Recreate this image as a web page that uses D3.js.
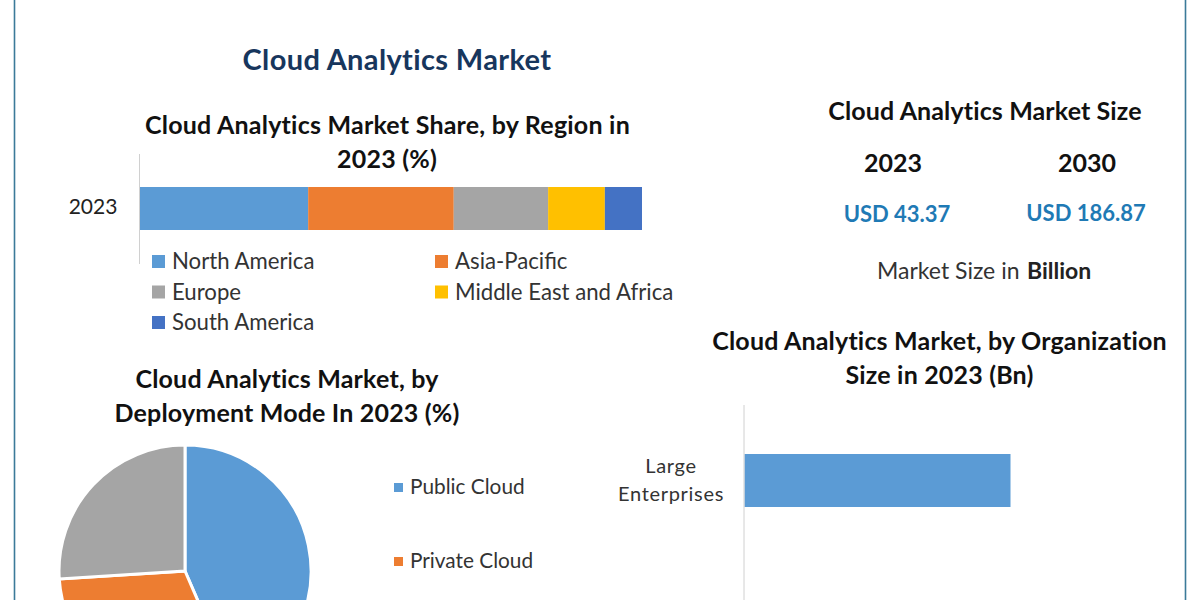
<!DOCTYPE html>
<html><head><meta charset="utf-8">
<script src="https://cdnjs.cloudflare.com/ajax/libs/d3/7.8.5/d3.min.js"></script>
<style>html,body{margin:0;background:#fff}svg{display:block}text{font-family:Lato,"Noto Sans",sans-serif}</style>
</head><body><svg id="c" width="1200" height="600"></svg>
<script>
const regionNames = ["North America","Asia-Pacific","Europe","Middle East and Africa","South America"];
const regionValues = [33.5,29,18.8,11.3,7.4];
const regionColors = ["#5b9bd5","#ed7d31","#a5a5a5","#ffc000","#4472c4"];
const deployNames = ["Public Cloud","Private Cloud","Other"];
const deployValues = [43.5,30.5,26];
const deployColors = ["#5b9bd5","#ed7d31","#a5a5a5"];
const orgNames = ["Large Enterprises"];
const orgValues = [26.6];
const orgColors = ["#5b9bd5"];
const sizeYears = ["2023","2030"];
const sizeValues = ["USD 43.37","USD 186.87"];

const svg = d3.select("#c");
const txt=(s,x,y,size,weight,fill,anchor,ls)=>svg.append("text").attr("x",x).attr("y",y).attr("font-size",size)
  .attr("font-weight",weight).attr("fill",fill).attr("text-anchor",anchor||"middle").attr("letter-spacing",ls||0).text(s);

// frame
const frameX = d3.scaleLinear().domain([0,1]).range([14.5,1185.5]);
svg.selectAll(".frame").data([0,1]).join("line").attr("x1",d=>frameX(d)).attr("x2",d=>frameX(d))
  .attr("y1",0).attr("y2",600).attr("stroke","#3b7a99").attr("stroke-width",1.6);

// titles
txt("Cloud Analytics Market",397,70,29,700,"#17365d","middle",0.36);
txt("Cloud Analytics Market Share, by Region in",387.5,134,25,700,"#111","middle",0.22);
txt("2023 (%)",387,168,25,700,"#111","middle",0.22);
txt("Cloud Analytics Market Size",985,120,25,700,"#111","middle",0.12);
txt("Market Size in",877,279,23,400,"#333","start");
txt("Billion",1027,279,23,700,"#222","start");
txt("Cloud Analytics Market, by",287,388,25,700,"#111","middle",0.18);
txt("Deployment Mode In 2023 (%)",287,422,25,700,"#111","middle",0.18);
txt("Cloud Analytics Market, by Organization",939.5,350,25,700,"#111","middle",0.18);
txt("Size in 2023 (Bn)",939.5,384,25,700,"#111","middle",0.18);

// market size
const sizeX = d3.scalePoint().domain(sizeYears).range([893,1087]);
svg.selectAll(".yr").data(sizeYears).join("text").attr("x",d=>sizeX(d)).attr("y",172).attr("text-anchor","middle")
  .attr("font-size",25).attr("font-weight",700).attr("fill","#111").text(d=>d);
svg.selectAll(".val").data(sizeValues).join("text").attr("x",(d,i)=>sizeX(sizeYears[i])+(i?-1:4)).attr("y",(d,i)=>i?221:222).attr("text-anchor","middle")
  .attr("font-size",22).attr("font-weight",700).attr("fill","#1f7ab5").text(d=>d);

// stacked bar
const stackX = d3.scaleLinear().domain([0,d3.sum(regionValues)]).range([140,642]);
const cum = d3.cumsum(regionValues);
svg.selectAll(".seg").data(regionValues).join("rect")
  .attr("x",(d,i)=>stackX(i?cum[i-1]:0)).attr("width",d=>stackX(d)-stackX(0))
  .attr("y",187).attr("height",43).attr("fill",(d,i)=>regionColors[i]);
svg.append("line").attr("x1",139.5).attr("x2",139.5).attr("y1",154).attr("y2",264).attr("stroke","#d0d0d0");
txt("2023",93,214,21,400,"#222");
const legX=[152,435], legY=d3.scalePoint().domain([0,1,2]).range([262,323]);
regionNames.forEach((n,i)=>{
  const col=i%2,row=Math.floor(i/2);
  svg.append("rect").attr("x",legX[col]).attr("y",legY(row)-7).attr("width",13).attr("height",13).attr("fill",regionColors[i]);
  txt(n,legX[col]+20,legY(row)+7,22.2,400,"#333","start");
});

// pie
const arcs = d3.pie().sort(null)(deployValues);
const arc = d3.arc().innerRadius(0).outerRadius(126);
svg.append("g").attr("transform","translate(185,571)").selectAll("path").data(arcs).join("path")
  .attr("d",arc).attr("fill",(d,i)=>deployColors[i]).attr("stroke","#fff").attr("stroke-width",3);
const pieLegY=d3.scalePoint().domain(deployNames.slice(0,2)).range([487,561]);
deployNames.slice(0,2).forEach((n,i)=>{
  svg.append("rect").attr("x",394).attr("y",pieLegY(n)-4).attr("width",9).attr("height",9).attr("fill",deployColors[i]);
  txt(n,410,pieLegY(n)+7,20.8,400,"#333","start");
});

// org bar
const orgX = d3.scaleLinear().domain([0,40]).range([744.5,1144.5]);
svg.selectAll(".org").data(orgValues).join("rect").attr("x",orgX(0)).attr("width",d=>orgX(d)-orgX(0))
  .attr("y",454).attr("height",53).attr("fill",(d,i)=>orgColors[i]);
svg.append("line").attr("x1",744).attr("x2",744).attr("y1",405).attr("y2",600).attr("stroke","#d0d0d0");
txt("Large",671,473,20,400,"#333","middle",0.7);
txt("Enterprises",671,501,20,400,"#333","middle",0.7);
</script></body></html>
